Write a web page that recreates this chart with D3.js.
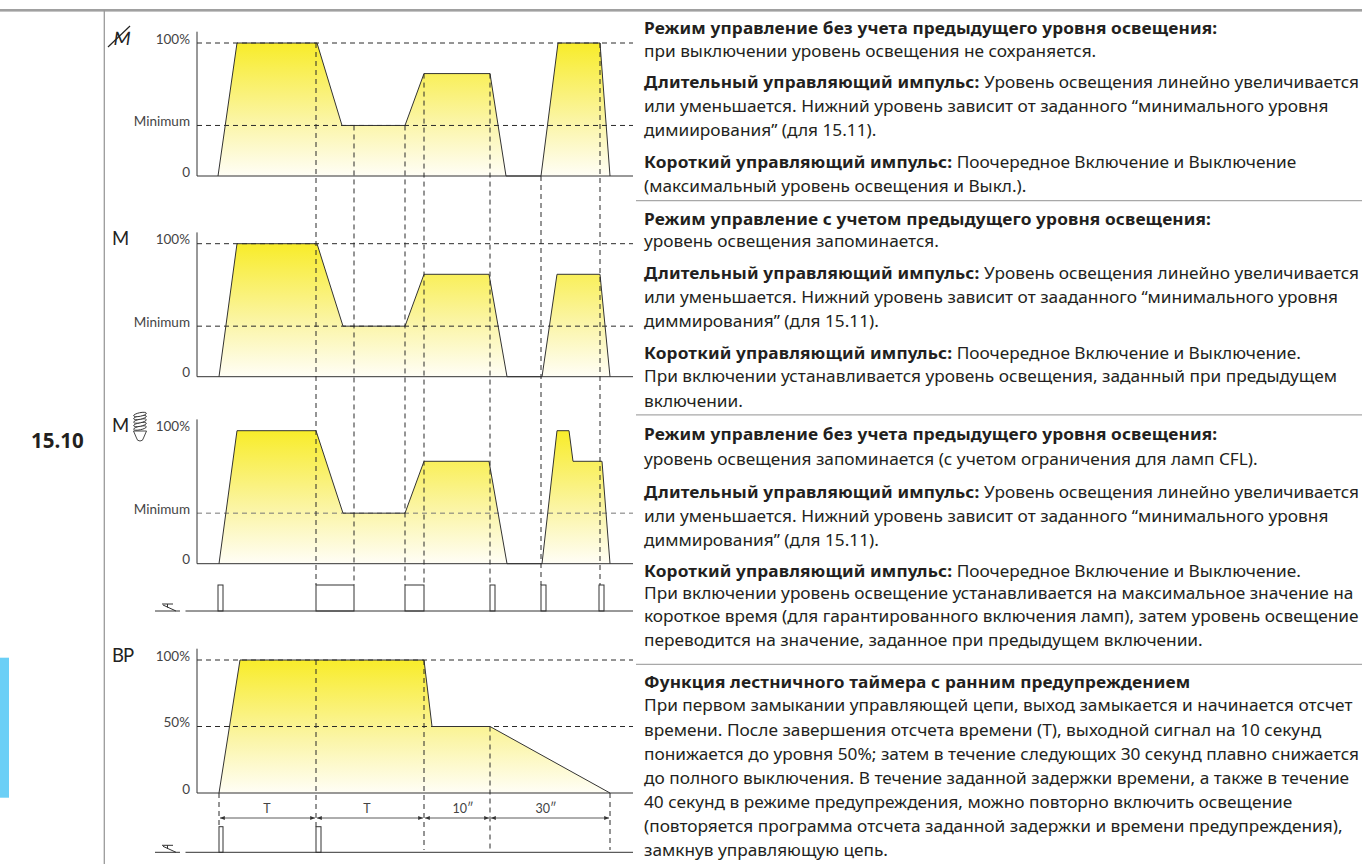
<!DOCTYPE html>
<html lang="ru">
<head>
  <meta charset="UTF-8">
  <title>15.10 dimmer modes</title>
  <style>
    html, body { margin: 0; padding: 0; background: #fff; }
    svg { display: block; }
    .tick text { font-family: Lato, sans-serif; font-size: 13.5px; font-weight: 400; fill: #444; }
    .note { font-family: Lato, sans-serif; font-size: 12.5px; font-weight: 400; fill: #444; }
    .mode { font-family: Lato, sans-serif; font-weight: 400; font-size: 18.5px; fill: #222; }
    .copy { font-family: "Noto Sans", sans-serif; font-size: 16px; fill: #231f20; }
    .copy .b { font-weight: 700; }
    .dash { fill: none; stroke: #2a2a2a; stroke-width: 1; stroke-dasharray: 5 4; }
    .solid { fill: none; stroke: #333; stroke-width: 1; }
  </style>
</head>
<body>
<script src="https://cdn.jsdelivr.net/npm/d3@7/dist/d3.min.js"></script>
<script>
// time is in arbitrary ticks along the shared x axis
var times1 = [21, 40, 120, 145, 208, 227, 293, 309, 344, 361, 403, 413];
var levels1 = [0, 100, 100, 38, 38, 77, 77, 0, 0, 100, 100, 0];
var times2 = [22, 40, 120, 146, 208, 227, 292, 310, 345, 360, 403, 413];
var levels2 = [0, 100, 100, 38, 38, 77, 77, 0, 0, 77, 77, 0];
var times3 = [22, 40, 119, 146, 208, 227, 292, 310, 345, 360, 372, 376, 405, 413];
var levels3 = [0, 100, 100, 38, 38, 77, 77, 0, 0, 100, 100, 77, 77, 0];
var times4 = [22, 43, 227, 235, 293, 413];
var levels4 = [0, 100, 100, 50, 50, 0];

var modeNames = ["M", "M", "M", "BP"];
var tickLabels = [["0", "Minimum", "100%"], ["0", "Minimum", "100%"], ["0", "Minimum", "100%"], ["0", "50%", "100%"]];
var tickLevels = [[0, 38, 100], [0, 38, 100], [0, 38, 100], [0, 50, 100]];

var pulseStarts = [21, 119, 208, 293, 344, 402];
var pulseEnds = [26, 157, 227, 298, 349, 407];
var pulseStarts4 = [22, 119];
var pulseEnds4 = [26, 124];

var guideTimes = [119, 157, 208, 227, 293, 344, 403];
var guideLevels = [100, 38, 38, 77, 77, 0, 100];

var spanStarts = [22, 119, 227, 293];
var spanEnds = [119, 227, 293, 413];
var spanLabels = ["T", "T", "10\u2033", "30\u2033"];
var spanLabelTimes = [70, 170, 266, 349];

var copy1 = [
  ["Режим управление без учета предыдущего уровня освещения:", ""],
  ["", "при выключении уровень освещения не сохраняется."],
  ["Длительный управляющий импульс:", " Уровень освещения линейно увеличивается"],
  ["", "или уменьшается. Нижний уровень зависит от заданного “минимального уровня"],
  ["", "димиирования” (для 15.11)."],
  ["Короткий управляющий импульс:", " Поочередное Включение и Выключение"],
  ["", "(максимальный уровень освещения и Выкл.)."]
];
var copy2 = [
  ["Режим управление с учетом предыдущего уровня освещения:", ""],
  ["", "уровень освещения запоминается."],
  ["Длительный управляющий импульс:", " Уровень освещения линейно увеличивается"],
  ["", "или уменьшается. Нижний уровень зависит от зааданного “минимального уровня"],
  ["", "диммирования” (для 15.11)."],
  ["Короткий управляющий импульс:", " Поочередное Включение и Выключение."],
  ["", "При включении устанавливается уровень освещения, заданный при предыдущем"],
  ["", "включении."]
];
var copy3 = [
  ["Режим управление без учета предыдущего уровня освещения:", ""],
  ["", "уровень освещения запоминается (с учетом ограничения для ламп CFL)."],
  ["Длительный управляющий импульс:", " Уровень освещения линейно увеличивается"],
  ["", "или уменьшается. Нижний уровень зависит от заданного “минимального уровня"],
  ["", "диммирования” (для 15.11)."],
  ["Короткий управляющий импульс:", " Поочередное Включение и Выключение."],
  ["", "При включении уровень освещение устанавливается на максимальное значение на"],
  ["", "короткое время (для гарантированного включения ламп), затем уровень освещение"],
  ["", "переводится на значение, заданное при предыдущем включении."]
];
var copy4 = [
  ["Функция лестничного таймера с ранним предупреждением", ""],
  ["", "При первом замыкании управляющей цепи, выход замыкается и начинается отсчет"],
  ["", "времени. После завершения отсчета времени (Т), выходной сигнал на 10 секунд"],
  ["", "понижается до уровня 50%; затем в течение следующих 30 секунд плавно снижается"],
  ["", "до полного выключения. В течение заданной задержки времени, а также в течение"],
  ["", "40 секунд в режиме предупреждения, можно повторно включить освещение"],
  ["", "(повторяется программа отсчета заданной задержки и времени предупреждения),"],
  ["", "замкнув управляющую цепь."]
];
var copyY1 = [29, 52, 83, 107, 131, 163, 187];
var copyY2 = [220, 242, 274, 298, 322, 354, 377, 402];
var copyY3 = [435, 460, 493, 517, 541, 572, 594, 617, 641];
var copyY4 = [683, 706, 731, 755, 779, 803, 827, 851];

var width = 1362, height = 864;
var svg = d3.select("body").append("svg").attr("width", width).attr("height", height);
var defs = svg.append("defs");

var x = d3.scaleLinear().domain([0, 436]).range([197, 633]);
var panelBase = [176, 376.7, 563.7, 793];
var panelScales = panelBase.map(function(b) {
  return d3.scaleLinear().domain([0, 100]).range([b, b - 133]);
});
var pulseY = d3.scaleLinear().domain([0, 1]);

// frame rules
svg.append("rect").attr("x", 0).attr("y", 9).attr("width", width).attr("height", 2.6).attr("fill", "#a0a0a0");
svg.append("line").attr("x1", 104.3).attr("x2", 104.3).attr("y1", 10).attr("y2", height).attr("stroke", "#9a9a9a").attr("stroke-width", 1.3);
[200.7, 414.8, 664.3].forEach(function(y) {
  svg.append("line").attr("x1", 636).attr("x2", width).attr("y1", y).attr("y2", y).attr("stroke", "#a8a8a8").attr("stroke-width", 1.3);
});
svg.append("rect").attr("x", 0).attr("y", 657.7).attr("width", 9).attr("height", 140).attr("fill", "#6bcff6");
svg.append("text").attr("x", 31).attr("y", 448)
  .attr("font-family", "Open Sans, sans-serif").attr("font-weight", 700).attr("font-size", 20.5).attr("fill", "#231f20")
  .text("15.10");

function drawPanel(i, times, levels) {
  var y = panelScales[i];
  var pts = times.map(function(t, k) { return [t, levels[k]]; });
  var gradId = "glow" + i;
  var grad = defs.append("linearGradient").attr("id", gradId)
    .attr("gradientUnits", "userSpaceOnUse")
    .attr("x1", 0).attr("x2", 0).attr("y1", y(100)).attr("y2", y(0));
  grad.append("stop").attr("offset", 0).attr("stop-color", "#f8ec2a");
  grad.append("stop").attr("offset", 0.6).attr("stop-color", "#fbf5a8");
  grad.append("stop").attr("offset", 1).attr("stop-color", "#fffef6");

  var g = svg.append("g");
  var area = d3.area().x(function(d) { return x(d[0]); }).y0(y(0)).y1(function(d) { return y(d[1]); });
  var line = d3.line().x(function(d) { return x(d[0]); }).y(function(d) { return y(d[1]); });
  g.append("path").attr("d", area(pts)).attr("fill", "url(#" + gradId + ")");

  // level guides
  tickLevels[i].slice(1).forEach(function(v) {
    if (i === 2 && v === 100) return;
    g.append("line").attr("class", "dash")
      .attr("x1", x(0)).attr("x2", x(436)).attr("y1", y(v)).attr("y2", y(v))
      .style("stroke", i === 2 ? "#777" : null);
  });

  g.append("path").attr("class", "solid").attr("d", line(pts));

  var axis = d3.axisLeft(y).tickValues(tickLevels[i]).tickSize(0).tickPadding(7)
    .tickFormat(function(d, k) { return tickLabels[i][k]; });
  var ag = g.append("g").attr("transform", "translate(" + x(0) + ",0)").call(axis);
  ag.select(".domain").remove();
  ag.selectAll("text").attr("dy", ".02em");
  g.append("line").attr("class", "solid").attr("x1", x(0)).attr("x2", x(0)).attr("y1", y(108.5)).attr("y2", y(0));
  g.append("line").attr("class", "solid").attr("x1", x(0)).attr("x2", x(436)).attr("y1", y(0)).attr("y2", y(0));

  var m = svg.append("text").attr("class", "mode").attr("x", 112).attr("y", y(108.5) + 13)
    .attr("letter-spacing", i === 3 ? -1 : 0).text(modeNames[i]);
  if (i === 0) m.attr("transform", "translate(7,0) skewX(-8)");
}

drawPanel(0, times1, levels1);
drawPanel(1, times2, levels2);
drawPanel(2, times3, levels3);
drawPanel(3, times4, levels4);

function drawPulses(starts, ends, base, top) {
  var py = pulseY.copy().range([base, top]);
  svg.append("line").attr("class", "solid").attr("x1", x(-11.5)).attr("x2", x(436)).attr("y1", py(0)).attr("y2", py(0));
  svg.append("g").selectAll("rect").data(starts).enter().append("rect")
    .attr("class", "solid")
    .attr("x", function(d) { return x(d); })
    .attr("y", py(1))
    .attr("width", function(d, k) { return x(ends[k]) - x(d); })
    .attr("height", py(0) - py(1));
  // switch symbol
  var s = svg.append("g").attr("transform", "translate(155," + base + ")");
  s.append("path").attr("d", "M0,0H25M7,-7H18M12.5,-7V-3.5M8,-6L21,0").attr("fill", "none").attr("stroke", "#333");
}
drawPulses(pulseStarts, pulseEnds, 611, 585);
drawPulses(pulseStarts4, pulseEnds4, 852.3, 826.7);

// guides running from the top panels down to the control pulses
svg.append("g").selectAll("line").data(guideTimes).enter().append("line")
  .attr("class", "dash")
  .attr("x1", function(d) { return x(d); })
  .attr("x2", function(d) { return x(d); })
  .attr("y1", function(d, k) { return panelScales[0](guideLevels[k]); })
  .attr("y2", 585);

// guides of the staircase panel
var y4 = panelScales[3];
[[22, 0, 826.7], [119, 100, 826.7], [227, 100, 850], [293, 50, 852], [413, 0, 850]].forEach(function(d) {
  svg.append("line").attr("class", "dash")
    .attr("x1", x(d[0])).attr("x2", x(d[0])).attr("y1", y4(d[1])).attr("y2", d[2]);
});

// time spans
var head = defs.append("marker").attr("id", "head").attr("viewBox", "0 0 6 6").attr("refX", 6).attr("refY", 3)
  .attr("markerWidth", 6).attr("markerHeight", 6).attr("orient", "auto-start-reverse");
head.append("path").attr("d", "M0,.6L6,3L0,5.4Z").attr("fill", "#333");
svg.append("g").selectAll("line").data(spanStarts).enter().append("line")
  .attr("x1", function(d) { return x(d) + 1; })
  .attr("x2", function(d, k) { return x(spanEnds[k]) - 1; })
  .attr("y1", 818).attr("y2", 818)
  .attr("stroke", "#333").attr("stroke-width", .8)
  .attr("marker-start", "url(#head)").attr("marker-end", "url(#head)");
svg.append("g").selectAll("text").data(spanLabels).enter().append("text")
  .attr("class", "note").attr("text-anchor", "middle")
  .attr("x", function(d, k) { return x(spanLabelTimes[k]); })
  .attr("y", 812.5)
  .text(function(d) { return d; });

// crossed-out M
svg.append("line").attr("x1", 108).attr("y1", 47).attr("x2", 130).attr("y2", 26).attr("stroke", "#222").attr("stroke-width", 1.2);

// CFL lamp icon
var lamp = svg.append("g").attr("transform", "translate(140,0)").attr("fill", "#fff").attr("stroke", "#333").attr("stroke-width", .9);
[428, 424.5, 421, 417.5, 414.5].forEach(function(cy) {
  lamp.append("ellipse").attr("cx", 0).attr("cy", cy).attr("rx", 6.5).attr("ry", 1.8).attr("transform", "rotate(-12 0 " + cy + ")");
});
lamp.append("path").attr("d", "M-6.5,431H6.5L3.5,438Q3,441 0,441Q-3,441 -3.5,438Z");

// description column
var copyGroup = svg.append("g").attr("class", "copy");
function drawCopy(rows, ys) {
  rows.forEach(function(r, k) {
    var t = copyGroup.append("text").attr("y", ys[k] + 5);
    if (r[0]) t.append("tspan").attr("class", "b").text(r[0]);
    if (r[1]) t.append("tspan").attr("xml:space", "preserve").text(r[1]);
  });
}
drawCopy(copy1, copyY1);
drawCopy(copy2, copyY2);
drawCopy(copy3, copyY3);
drawCopy(copy4, copyY4);
// squeeze the column: regular lines fit on the widest regular line, bold headings on the first heading
var rows = copyGroup.selectAll("text").nodes();
var plainLine = rows[copy1.length + copy2.length + copy3.length + 3];
var squeeze = 716 / plainLine.getComputedTextLength();
var boldSpacing = (574 / squeeze - rows[0].getComputedTextLength()) / copy1[0][0].length;
copyGroup.selectAll(".b").style("letter-spacing", boldSpacing + "px");
copyGroup.attr("transform", "translate(644,0) scale(" + squeeze + ",1)");
</script>
</body>
</html>
